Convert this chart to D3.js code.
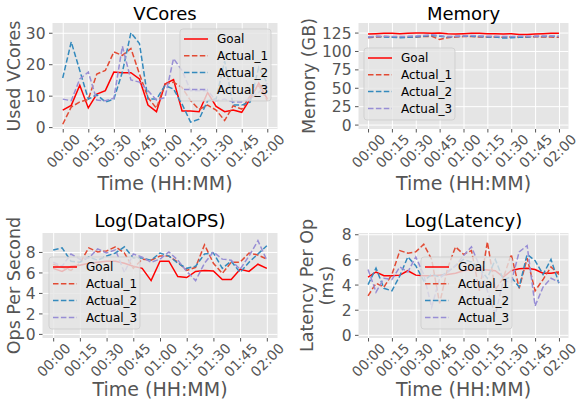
<!DOCTYPE html>
<html>
<head>
<meta charset="utf-8">
<script src="https://cdnjs.cloudflare.com/ajax/libs/d3/7.8.5/d3.min.js"></script>
<style>
  body { margin: 0; background: #fff; }
  svg { font-family: "DejaVu Sans", sans-serif; }
</style>
</head>
<body>
<svg id="chart" width="580" height="404"></svg>
<script>
var minutes = [0, 5, 10, 15, 20, 25, 30, 35, 40, 45, 50, 55, 60, 65, 70, 75, 80, 85, 90, 95, 100, 105, 110, 115, 120];
var tickMinutes = [0, 15, 30, 45, 60, 75, 90, 105, 120];
var tickLabels = ["00:00", "00:15", "00:30", "00:45", "01:00", "01:15", "01:30", "01:45", "02:00"];
var seriesNames = ["Goal", "Actual_1", "Actual_2", "Actual_3"];

var vcoresGoal = [5.4, 6.9, 13.3, 6.1, 10.5, 11.6, 17.5, 17.3, 17.3, 15.3, 7.0, 4.9, 13.7, 15.1, 5.1, 5.1, 4.9, 11.0, 6.6, 4.9, 5.4, 4.7, 9.0, 14.0, 9.0];
var vcoresActual1 = [0.9, 6.4, 8.0, 8.8, 16.9, 18.0, 23.9, 22.8, 25.0, 16.9, 9.4, 6.0, 13.7, 14.3, 12.6, 8.4, 5.6, 7.0, 5.4, 2.1, 6.8, 5.7, 10.0, 13.2, 8.4];
var vcoresActual2 = [15.6, 27.1, 18.0, 8.9, 10.3, 8.0, 8.9, 17.5, 30.0, 26.6, 8.9, 8.9, 13.2, 12.1, 7.3, 1.6, 2.5, 8.4, 9.0, 21.0, 7.0, 7.0, 8.0, 19.0, 14.0];
var vcoresActual3 = [8.9, 8.4, 15.3, 17.5, 8.6, 8.4, 9.2, 25.7, 15.0, 14.3, 11.6, 8.6, 9.4, 21.8, 18.0, 11.6, 11.6, 11.6, 8.4, 8.9, 8.0, 8.0, 9.0, 11.0, 14.0];

var memoryGoal = [123, 123.5, 124, 124, 123.5, 124, 124.5, 124.5, 124, 124.5, 123.5, 123, 123.5, 124, 124, 123.5, 123.5, 123, 123.5, 122.5, 122.5, 123, 123.5, 124, 124];
var memoryActual1 = [118, 119, 119.5, 119, 119, 118.5, 119, 119.5, 120, 115.5, 118, 119, 119.5, 119.5, 119, 119, 119, 118.5, 119, 119, 119, 119.5, 119, 119, 118.5];
var memoryActual2 = [118.5, 119.5, 119, 118.5, 118, 118.5, 119, 120, 121, 120, 119, 119.5, 120, 120, 119.5, 119, 119, 117.5, 118, 118.5, 119, 119.5, 119.5, 120, 119.5];
var memoryActual3 = [119, 120, 120, 119.5, 119.5, 120, 120.5, 121, 122, 121, 119.5, 120, 120.5, 121, 120.5, 120, 120, 119.5, 119.5, 120, 120, 120, 120.5, 120.5, 120];

var opsGoal = [6.4, 6.1, 6.6, 6.7, 6.9, 7.0, 7.1, 7.1, 6.9, 6.6, 6.4, 5.2, 7.1, 7.1, 5.6, 5.5, 6.1, 6.2, 6.15, 5.3, 5.3, 6.3, 6.1, 6.8, 6.4];
var opsActual1 = [6.8, 6.5, 6.2, 6.9, 8.4, 8.0, 8.1, 8.5, 7.9, 6.4, 7.3, 7.2, 7.6, 7.6, 7.0, 6.2, 6.5, 8.7, 6.9, 5.9, 7.0, 7.0, 7.9, 7.7, 7.3];
var opsActual2 = [8.2, 8.4, 7.1, 7.0, 7.5, 7.2, 7.6, 7.9, 8.5, 7.4, 7.4, 7.2, 7.9, 7.6, 6.9, 6.4, 6.6, 7.8, 7.9, 6.4, 7.1, 6.0, 7.0, 7.8, 8.6];
var opsActual3 = [7.0, 6.6, 7.8, 7.3, 7.4, 8.3, 7.9, 8.2, 6.0, 7.8, 7.5, 7.0, 7.3, 8.0, 7.2, 6.1, 5.2, 6.9, 8.0, 7.3, 7.2, 6.3, 7.6, 9.1, 7.2];

var latencyGoal = [4.6, 5.0, 4.7, 4.7, 4.75, 5.1, 4.75, 4.7, 4.7, 4.75, 4.8, 4.9, 5.1, 5.2, 5.2, 5.15, 5.1, 4.6, 5.1, 5.25, 5.3, 5.2, 4.9, 4.9, 5.0];
var latencyActual1 = [3.1, 4.1, 3.8, 4.8, 6.7, 6.5, 6.6, 7.2, 6.0, 2.5, 5.3, 7.0, 6.4, 6.7, 3.5, 7.4, 3.6, 4.5, 6.4, 3.7, 6.1, 3.5, 4.4, 5.4, 4.8];
var latencyActual2 = [4.0, 5.3, 3.7, 3.5, 4.7, 6.2, 5.5, 4.3, 4.8, 4.6, 5.0, 5.5, 6.0, 5.8, 5.3, 4.5, 6.0, 4.4, 4.6, 3.8, 6.4, 5.9, 4.8, 6.0, 4.1];
var latencyActual3 = [5.2, 3.4, 4.5, 4.4, 5.4, 5.0, 6.2, 4.8, 2.2, 4.5, 5.0, 5.5, 6.3, 7.0, 5.5, 3.5, 1.6, 4.3, 4.2, 6.6, 7.1, 2.3, 3.8, 4.5, 4.2];

var vcoresTicks = [0, 10, 20, 30];
var memoryTicks = [0, 25, 50, 75, 100, 125];
var opsTicks = [0, 2, 4, 6, 8];
var latencyTicks = [0, 2, 4, 6, 8];

var colors = ["#FF0000", "#E24A33", "#348ABD", "#988ED5"];
var dashes = [null, "5.5,2.4", "5.5,2.4", "5.5,2.4"];

var panels = [
  { title: "VCores", ylabel: ["Used VCores"], data: [vcoresGoal, vcoresActual1, vcoresActual2, vcoresActual3],
    yTicks: vcoresTicks, domain: [-0.6, 33.1], box: [52.5, 277.5, 23, 129], legend: [180, 29],
    ylabelX: 20, titleY: 20, xlabelY: 190 },
  { title: "Memory", ylabel: ["Memory (GB)"], data: [memoryGoal, memoryActual1, memoryActual2, memoryActual3],
    yTicks: memoryTicks, domain: [-6, 138], box: [358.5, 568.5, 23, 129], legend: [364, 48],
    ylabelX: 315, titleY: 20, xlabelY: 190 },
  { title: "Log(DataIOPS)", ylabel: ["Ops Per Second"], data: [opsGoal, opsActual1, opsActual2, opsActual3],
    yTicks: opsTicks, domain: [-0.4, 9.85], box: [42.5, 277.5, 233, 338], legend: [49, 257],
    ylabelX: 20, titleY: 227, xlabelY: 396 },
  { title: "Log(Latency)", ylabel: ["Latency Per Op", "(ms)"], data: [latencyGoal, latencyActual1, latencyActual2, latencyActual3],
    yTicks: latencyTicks, domain: [-0.25, 8.1], box: [358.5, 568.5, 233, 338], legend: [421, 257],
    ylabelX: 313, titleY: 227, xlabelY: 396 }
];

var svg = d3.select("#chart");

function drawPanel(p, idx) {
  var left = p.box[0], right = p.box[1], top = p.box[2], bottom = p.box[3];
  var x = d3.scaleLinear().domain([-6, 126]).range([left, right]);
  var y = d3.scaleLinear().domain(p.domain).range([bottom, top]);
  var g = svg.append("g");

  g.append("rect")
    .attr("x", left).attr("y", top)
    .attr("width", right - left).attr("height", bottom - top)
    .attr("fill", "#E5E5E5");

  // white grid
  g.append("g")
    .attr("transform", "translate(0," + bottom + ")")
    .call(d3.axisBottom(x).tickValues(tickMinutes).tickSize(-(bottom - top)).tickFormat(""))
    .call(function (a) { a.select(".domain").remove(); a.selectAll("line").attr("stroke", "#fff").attr("stroke-width", 1); });
  g.append("g")
    .attr("transform", "translate(" + left + ",0)")
    .call(d3.axisLeft(y).tickValues(p.yTicks).tickSize(-(right - left)).tickFormat(""))
    .call(function (a) { a.select(".domain").remove(); a.selectAll("line").attr("stroke", "#fff").attr("stroke-width", 1); });

  // y axis
  g.append("g")
    .attr("transform", "translate(" + left + ",0)")
    .call(d3.axisLeft(y).tickValues(p.yTicks).tickSize(3.5).tickPadding(3.5))
    .call(function (a) {
      a.select(".domain").remove();
      a.selectAll("line").attr("stroke", "#555555");
      a.selectAll("text").attr("fill", "#555555").attr("font-size", 15.5)
        .attr("font-family", "DejaVu Sans").attr("dy", "0.36em");
    });

  // x axis with rotated labels
  var fs = 14;
  g.append("g")
    .attr("transform", "translate(0," + bottom + ")")
    .call(d3.axisBottom(x).tickValues(tickMinutes).tickSize(3.5)
      .tickFormat(function (d, i) { return tickLabels[i]; }))
    .call(function (a) {
      a.select(".domain").remove();
      a.selectAll("line").attr("stroke", "#555555");
      a.selectAll("text").attr("fill", "#555555").attr("font-size", fs)
        .attr("font-family", "DejaVu Sans")
        .attr("text-anchor", "middle").attr("dy", "0.36em")
        .each(function () {
          var w = this.getComputedTextLength();
          var cy = 4 + (w + fs * 0.75) * 0.7071 / 2;
          d3.select(this).attr("y", cy).attr("transform", "rotate(-45,0," + cy + ")");
        });
    });

  // lines
  var clipId = "clip" + idx;
  g.append("clipPath").attr("id", clipId)
    .append("rect").attr("x", left).attr("y", top)
    .attr("width", right - left).attr("height", bottom - top);

  var line = d3.line()
    .x(function (d, i) { return x(minutes[i]); })
    .y(function (d) { return y(d); });

  g.append("g").attr("clip-path", "url(#" + clipId + ")")
    .selectAll("path")
    .data(p.data)
  .enter().append("path")
    .attr("d", line)
    .attr("fill", "none")
    .attr("stroke", function (d, i) { return colors[i]; })
    .attr("stroke-width", 1.5)
    .attr("stroke-dasharray", function (d, i) { return dashes[i]; });

  // legend
  var lx = p.legend[0], ly = p.legend[1];
  var lg = g.append("g").attr("transform", "translate(" + lx + "," + ly + ")");
  lg.append("rect")
    .attr("x", 0).attr("y", 0).attr("width", 91).attr("height", 72).attr("rx", 3)
    .attr("fill", "#E5E5E5").attr("fill-opacity", 0.8)
    .attr("stroke", "#CCCCCC").attr("stroke-opacity", 0.8);
  var items = lg.selectAll("g.item")
    .data(seriesNames)
  .enter().append("g")
    .attr("class", "item")
    .attr("transform", function (d, i) { return "translate(0," + (10 + i * 16.8) + ")"; });
  items.append("line")
    .attr("x1", 4).attr("x2", 28).attr("y1", 0).attr("y2", 0)
    .attr("stroke", function (d, i) { return colors[i]; })
    .attr("stroke-width", 1.5)
    .attr("stroke-dasharray", function (d, i) { return dashes[i]; });
  items.append("text")
    .attr("x", 37).attr("y", 0).attr("dy", "0.36em")
    .attr("font-size", 12).attr("fill", "#000")
    .text(function (d) { return d; });

  // title and axis labels
  var cx = (left + right) / 2, cyMid = (top + bottom) / 2;
  g.append("text")
    .attr("x", cx).attr("y", p.titleY)
    .attr("text-anchor", "middle").attr("font-size", 18).attr("fill", "#000")
    .text(p.title);
  g.append("text")
    .attr("x", cx).attr("y", p.xlabelY)
    .attr("text-anchor", "middle").attr("font-size", 19).attr("fill", "#555555")
    .text("Time (HH:MM)");
  p.ylabel.forEach(function (t, i) {
    g.append("text")
      .attr("transform", "translate(" + (p.ylabelX + i * 20) + "," + cyMid + ") rotate(-90)")
      .attr("text-anchor", "middle").attr("font-size", 17.5).attr("fill", "#555555")
      .text(t);
  });
}

panels.forEach(drawPanel);
</script>
</body>
</html>
